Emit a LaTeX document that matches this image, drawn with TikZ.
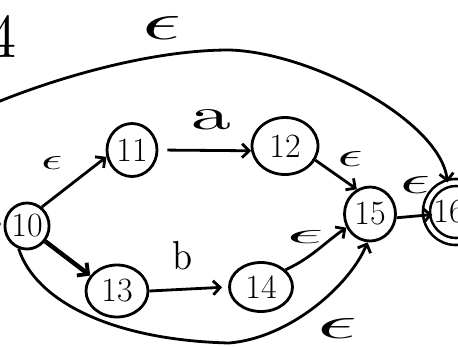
\documentclass[tikz,border=0pt]{standalone}
\usepackage{fontspec}
\usepackage{graphicx}
\usetikzlibrary{arrows.meta,shapes.geometric}
\newcommand\myeps[2]{\resizebox{#1pt}{#2pt}{$\epsilon$}}
\begin{document}
\begin{tikzpicture}[x=1pt,y=-1pt,
  st/.style={ellipse,draw,line width=2.8pt,inner sep=0pt,font=\fontsize{34}{34}\selectfont},
  edge/.style={line width=2.8pt,-{Straight Barb[length=7pt,width=14pt,line width=2.8pt]}},
  plain/.style={line width=2.8pt},
  lbl/.style={inner sep=0pt,outer sep=0pt}]
\useasboundingbox (0,0) rectangle (458,346);
\fill[white] (0,0) rectangle (458,346);
\clip (0,0) rectangle (458,346);
% states
\node[st,minimum width=42pt,minimum height=46pt] (n10) at (27,226) {10};
\node[st,minimum width=50pt,minimum height=53pt] (n11) at (132,150) {11};
\node[st,minimum width=66pt,minimum height=57pt] (n12) at (285,146) {12};
\node[st,minimum width=62pt,minimum height=52pt] (n13) at (117,291) {13};
\node[st,minimum width=63pt,minimum height=49pt] (n14) at (261,287) {14};
\node[st,minimum width=51pt,minimum height=54pt] (n15) at (370,214) {15};
\node[circle,draw,line width=2.6pt,double,double distance=4.4pt,minimum size=59pt,inner sep=0pt,
      font=\fontsize{34}{34}\selectfont] (n16) at (456,212) {\hspace*{-14pt}16};
% free ends of the partly hidden connectors
\coordinate (c0) at (-12,223);
\coordinate (c9) at (-30,114);
% connectors
\draw[plain,shorten >=3pt] (c0) -- (n10);
\draw[edge] (n10.52) -- (n11.195);
\draw[edge,shorten <=9pt] (n11.east) -- (n12.188);
\draw[line width=4.5pt,-{Straight Barb[length=8pt,width=16pt,line width=3.8pt]}] (n10.-40) -- (n13.150);
\draw[edge,shorten >=6pt] (n13.east) -- (n14.west);
\draw[edge] (n12.-25) -- (n15.118);
\draw[edge] (n14.35) to[out=25,in=215] (n15.210);
\draw[edge,shorten >=-7pt] (n15.-8) -- (n16.186);
\draw[edge] (n10.-110) .. controls (35,300) and (110,340) .. (229,343)
            .. controls (290,338) and (350,285) .. (n15.-95);
\draw[edge] (c9) .. controls (30,86) and (140,50) .. (229,50)
            .. controls (310,52) and (440,120) .. (n16.106);
% labels
\node[lbl] (l4) at (3,36) {\resizebox{28pt}{42pt}{4}};
\node[lbl] (e1) at (162,28) {\myeps{39}{23}};
\node[lbl] (e2) at (52,163) {\myeps{21}{13}};
\node[lbl] (la) at (211,120) {\resizebox{40pt}{20pt}{a}};
\node[lbl] (e3) at (350,159) {\myeps{25}{15}};
\node[lbl] (e4) at (415,185) {\myeps{30}{17}};
\node[lbl] (lb) at (183,256) {\resizebox{20pt}{28pt}{b}};
\node[lbl] (e5) at (305,237) {\myeps{37}{13}};
\node[lbl] (e6) at (337,328) {\myeps{40}{20}};
\end{tikzpicture}
\end{document}
